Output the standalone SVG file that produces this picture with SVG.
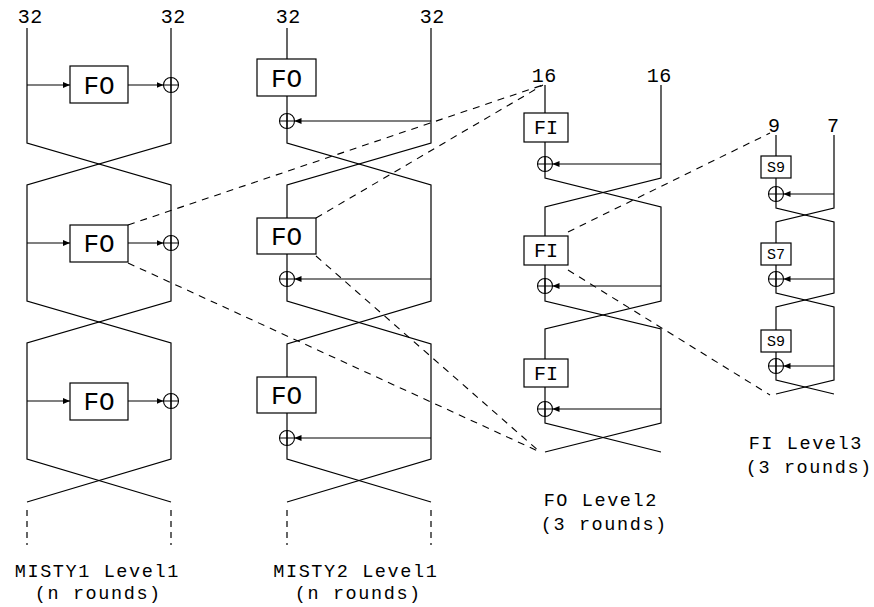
<svg xmlns="http://www.w3.org/2000/svg" width="874" height="607" viewBox="0 0 874 607">
  <style>
    .ln { fill: none; stroke: #000; stroke-width: 1.2; }
    .dash { fill: none; stroke: #000; stroke-width: 1.1; stroke-dasharray: 7 6; }
    .box { fill: #fff; stroke: #000; stroke-width: 1.2; }
    .xor { fill: none; stroke: #000; stroke-width: 1.1; }
    .t { font-family: "Liberation Mono", "DejaVu Sans Mono", monospace; fill: #000; text-anchor: middle; }
    .lab { font-size: 20px; letter-spacing: 0.6px; }
    .cap { font-size: 18.5px; letter-spacing: 1.6px; }
    .fo { font-size: 26px; }
    .fi { font-size: 20px; }
    .s { font-size: 15px; }
  </style>
  <defs>
    <marker id="ah" markerUnits="userSpaceOnUse" markerWidth="7" markerHeight="6" refX="7" refY="3" orient="auto">
      <path d="M0,0 L7,3 L0,6 z" fill="#000"/>
    </marker>
    <g id="xorsym">
      <circle r="7.5" class="xor"/>
      <path d="M-7.5,0 H7.5 M0,-7.5 V7.5" class="xor"/>
    </g>
  </defs>
  <rect width="874" height="607" fill="#fff"/>

  <!-- connectors: data paths, Feistel crossings, zoom-in guides -->
  <g id="connectors">
    <!-- MISTY1 Level1 -->
    <path class="ln" d="M27,28 V143 L171,185 V301 L27,343 V459 L171,502"/>
    <path class="ln" d="M171,28 V143 L27,185 V301 L171,343 V459 L27,502"/>
    <path class="ln" marker-end="url(#ah)" d="M27,85 H70"/>
    <path class="ln" marker-end="url(#ah)" d="M128,85 H163.5"/>
    <path class="ln" marker-end="url(#ah)" d="M27,243 H70"/>
    <path class="ln" marker-end="url(#ah)" d="M128,243 H163.5"/>
    <path class="ln" marker-end="url(#ah)" d="M27,401 H70"/>
    <path class="ln" marker-end="url(#ah)" d="M128,401 H163.5"/>
    <path class="ln" stroke-dasharray="6 5" d="M27,510 V545 M171,510 V545"/>

    <!-- MISTY2 Level1 -->
    <path class="ln" d="M287,28 V143 L431,185 V301 L287,344 V459 L431,502"/>
    <path class="ln" d="M431,28 V143 L287,185 V301 L431,344 V459 L287,502"/>
    <path class="ln" marker-end="url(#ah)" d="M431,121 H294.5"/>
    <path class="ln" marker-end="url(#ah)" d="M431,279 H294.5"/>
    <path class="ln" marker-end="url(#ah)" d="M431,438 H294.5"/>
    <path class="ln" stroke-dasharray="6 5" d="M287,510 V545 M431,510 V545"/>

    <!-- FO Level2 -->
    <path class="ln" d="M545,85 V178 L661,207 V301 L545,329 V423 L661,452"/>
    <path class="ln" d="M661,85 V178 L545,207 V301 L661,329 V423 L545,452"/>
    <path class="ln" marker-end="url(#ah)" d="M661,164 H552.5"/>
    <path class="ln" marker-end="url(#ah)" d="M661,286 H552.5"/>
    <path class="ln" marker-end="url(#ah)" d="M661,409 H552.5"/>

    <!-- FI Level3 -->
    <path class="ln" d="M776,135 V208 L834,222 V293 L776,307 V380 L834,394"/>
    <path class="ln" d="M834,135 V208 L776,222 V293 L834,307 V380 L776,394"/>
    <path class="ln" marker-end="url(#ah)" d="M834,194 H783.5"/>
    <path class="ln" marker-end="url(#ah)" d="M834,279 H783.5"/>
    <path class="ln" marker-end="url(#ah)" d="M834,366 H783.5"/>

    <!-- zoom-in guides -->
    <path class="dash" d="M128,225 L543,85"/>
    <path class="dash" d="M316,218 L543,85"/>
    <path class="dash" d="M128,263 L540,452"/>
    <path class="dash" d="M316,256 L540,452"/>
    <path class="dash" d="M568,232 L770,133"/>
    <path class="dash" d="M568,270 L770,395"/>
  </g>

  <!-- MISTY1 Level1 nodes -->
  <g id="m1-fo1"><rect class="box" x="70" y="66" width="58" height="37"/><text class="t fo" x="99" y="94">FO</text></g>
  <g id="m1-fo2"><rect class="box" x="70" y="225" width="58" height="37"/><text class="t fo" x="99" y="252">FO</text></g>
  <g id="m1-fo3"><rect class="box" x="70" y="383" width="58" height="37"/><text class="t fo" x="99" y="410">FO</text></g>
  <g id="m1-xor1"><use href="#xorsym" x="171" y="85"/></g>
  <g id="m1-xor2"><use href="#xorsym" x="171" y="243"/></g>
  <g id="m1-xor3"><use href="#xorsym" x="171" y="401"/></g>

  <!-- MISTY2 Level1 nodes -->
  <g id="m2-fo1"><rect class="box" x="257" y="59" width="59" height="37"/><text class="t fo" x="286.5" y="87">FO</text></g>
  <g id="m2-fo2"><rect class="box" x="257" y="218" width="59" height="36"/><text class="t fo" x="286.5" y="245">FO</text></g>
  <g id="m2-fo3"><rect class="box" x="257" y="377" width="59" height="36"/><text class="t fo" x="286.5" y="404">FO</text></g>
  <g id="m2-xor1"><use href="#xorsym" x="287" y="121"/></g>
  <g id="m2-xor2"><use href="#xorsym" x="287" y="279"/></g>
  <g id="m2-xor3"><use href="#xorsym" x="287" y="438"/></g>

  <!-- FO Level2 nodes -->
  <g id="fo-fi1"><rect class="box" x="524" y="113" width="44" height="29"/><text class="t fi" x="546" y="134">FI</text></g>
  <g id="fo-fi2"><rect class="box" x="524" y="236" width="44" height="29"/><text class="t fi" x="546" y="257">FI</text></g>
  <g id="fo-fi3"><rect class="box" x="524" y="359" width="44" height="28"/><text class="t fi" x="546" y="380">FI</text></g>
  <g id="fo-xor1"><use href="#xorsym" x="545" y="164"/></g>
  <g id="fo-xor2"><use href="#xorsym" x="545" y="286"/></g>
  <g id="fo-xor3"><use href="#xorsym" x="545" y="409"/></g>

  <!-- FI Level3 nodes -->
  <g id="fi-s9a"><rect class="box" x="761" y="156" width="30" height="22"/><text class="t s" x="776" y="172">S9</text></g>
  <g id="fi-s7"><rect class="box" x="761" y="243" width="30" height="22"/><text class="t s" x="776" y="259">S7</text></g>
  <g id="fi-s9b"><rect class="box" x="761" y="330" width="30" height="22"/><text class="t s" x="776" y="346">S9</text></g>
  <g id="fi-xor1"><use href="#xorsym" x="776" y="194"/></g>
  <g id="fi-xor2"><use href="#xorsym" x="776" y="279"/></g>
  <g id="fi-xor3"><use href="#xorsym" x="776" y="366"/></g>

  <!-- bit widths and captions -->
  <g id="labels">
    <text class="t lab" x="30.3" y="23">32</text>
    <text class="t lab" x="173.3" y="23">32</text>
    <text class="t lab" x="288.3" y="23">32</text>
    <text class="t lab" x="432.3" y="23">32</text>
    <text class="t lab" x="544.3" y="82">16</text>
    <text class="t lab" x="659.3" y="82">16</text>
    <text class="t lab" x="774.3" y="132">9</text>
    <text class="t lab" x="833.3" y="132">7</text>
    <text class="t cap" x="97.3" y="577">MISTY1 Level1</text>
    <text class="t cap" x="98.3" y="599">(n rounds)</text>
    <text class="t cap" x="355.8" y="577">MISTY2 Level1</text>
    <text class="t cap" x="358.3" y="599">(n rounds)</text>
    <text class="t cap" x="600.8" y="506">FO Level2</text>
    <text class="t cap" x="604.3" y="530">(3 rounds)</text>
    <text class="t cap" x="805.8" y="449">FI Level3</text>
    <text class="t cap" x="809.3" y="473">(3 rounds)</text>
  </g>
</svg>
